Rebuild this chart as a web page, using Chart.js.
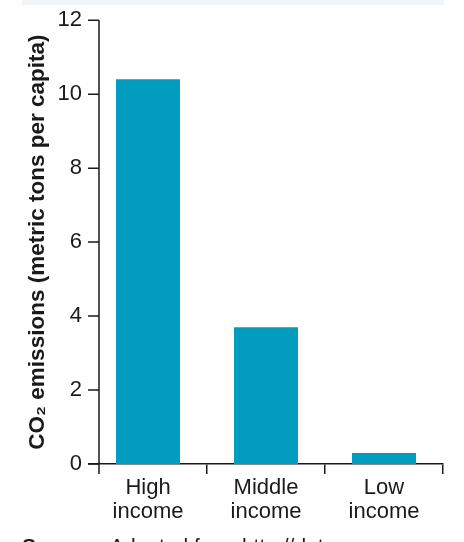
<!DOCTYPE html>
<html>
<head>
<meta charset="utf-8">
<script src="https://cdn.jsdelivr.net/npm/chart.js@4.4.1/dist/chart.umd.min.js"></script>
<style>
  html, body { margin: 0; padding: 0; background: #fff; }
  #wrap { position: relative; width: 464px; height: 542px; overflow: hidden; font-family: "Liberation Sans", Arial, sans-serif; }
  #band { position: absolute; left: 22px; top: 0; width: 422px; height: 5px; background: #f1f4f8; }
  #chart { position: absolute; left: 0; top: 0; }
  #source { position: absolute; left: 22px; top: 535px; font-size: 21px; line-height: 21px; color: #1a1a1a; white-space: nowrap; }
  #source b { display: inline-block; width: 88px; }
</style>
</head>
<body>
<div id="wrap">
  <div id="band"></div>
  <canvas id="chart" width="464" height="542"></canvas>
  <div id="source"><b>Source:</b>Adapted from http://data.</div>
</div>
<script>
const categories = [["High", "income"], ["Middle", "income"], ["Low", "income"]];
const emissions = [10.4, 3.7, 0.3];
const yTicks = [0, 2, 4, 6, 8, 10, 12];

const FONT = "'Liberation Sans', Arial, sans-serif";
const INK = "#1a1a1a";

// y axis is drawn a bit inside the first category, like the original
const yAxisLine = {
    id: "yAxisLine",
    afterDraw(chart) {
        const ctx = chart.ctx;
        const y = chart.scales.y;
        const x = chart.scales.x;
        const axisX = chart.chartArea.left + 10;
        ctx.save();
        ctx.strokeStyle = INK;
        ctx.lineWidth = 1.5;
        ctx.beginPath();
        ctx.moveTo(axisX, y.getPixelForValue(12));
        ctx.lineTo(axisX, x.top + 10);
        yTicks.forEach(v => {
            const py = y.getPixelForValue(v);
            ctx.moveTo(axisX - 11, py);
            ctx.lineTo(axisX, py);
        });
        ctx.stroke();
        ctx.restore();
    }
};

new Chart(document.getElementById("chart"), {
    type: "bar",
    data: {
        labels: categories,
        datasets: [{
            data: emissions,
            backgroundColor: "#019cbe",
            barPercentage: 0.542,
            categoryPercentage: 1
        }]
    },
    options: {
        responsive: false,
        animation: false,
        layout: { padding: { left: 22, right: 21, top: 19, bottom: 18 } },
        plugins: { legend: { display: false }, tooltip: { enabled: false } },
        scales: {
            x: {
                offset: true,
                grid: {
                    display: true,
                    offset: true,
                    drawOnChartArea: false,
                    drawTicks: true,
                    tickLength: 10,
                    lineWidth: 1.5,
                    color: ctx => ctx.index === 0 ? "rgba(0,0,0,0)" : INK
                },
                border: { display: true, color: INK, width: 1.5 },
                ticks: { color: INK, font: { family: FONT, size: 22, lineHeight: 1.1 }, padding: 2, maxRotation: 0 },
                afterFit: s => { s.height = 60; }
            },
            y: {
                min: 0,
                max: 12,
                afterBuildTicks: s => { s.ticks = yTicks.map(v => ({ value: v })); },
                grid: { display: false, drawTicks: false },
                border: { display: false },
                ticks: { color: INK, font: { family: FONT, size: 22 }, padding: 7 },
                title: {
                    display: true,
                    text: "CO\u2082 emissions (metric tons per capita)",
                    color: INK,
                    font: { family: FONT, size: 22.5, weight: "bold" },
                    padding: { top: 2, bottom: 0 }
                },
                afterFit: s => { s.width = 67; }
            }
        }
    },
    plugins: [yAxisLine]
});
</script>
</body>
</html>
